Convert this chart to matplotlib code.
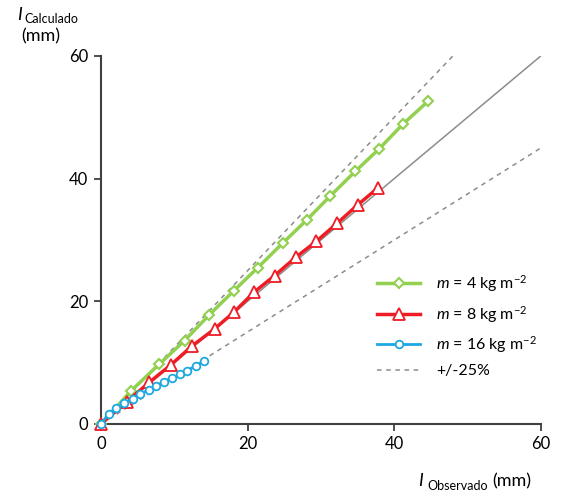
# Calculated vs observed values, three loads plus 1:1 and +/-25% lines
import numpy as np
import matplotlib
matplotlib.use('Agg')
import matplotlib.pyplot as plt

plt.rcParams['font.family'] = ['Lato', 'DejaVu Sans']
plt.rcParams['mathtext.fontset'] = 'custom'
plt.rcParams['mathtext.rm'] = 'Lato'
plt.rcParams['mathtext.it'] = 'Lato:italic'

# data
obs_4 = [0, 4.1, 7.9, 11.4, 14.7, 18.1, 21.4, 24.8, 28.1, 31.3, 34.7, 37.9, 41.2, 44.6]
calc_4 = [0, 5.4, 9.7, 13.6, 17.7, 21.7, 25.5, 29.5, 33.3, 37.2, 41.2, 44.8, 48.9, 52.6]
obs_8 = [0, 3.5, 6.6, 9.5, 12.4, 15.5, 18.2, 20.9, 23.7, 26.6, 29.4, 32.2, 35.0, 37.8]
calc_8 = [0, 3.6, 6.8, 9.6, 12.7, 15.5, 18.3, 21.5, 24.2, 27.2, 29.8, 32.7, 35.7, 38.5]
obs_16 = [0, 1.1, 2.1, 3.2, 4.3, 5.3, 6.5, 7.5, 8.6, 9.7, 10.8, 11.8, 12.9, 14.0]
calc_16 = [0, 1.7, 2.6, 3.4, 4.1, 4.9, 5.5, 6.2, 6.9, 7.5, 8.1, 8.7, 9.5, 10.2]
labels = [r'$\it{m}$ = 4 kg m$^{-2}$', r'$\it{m}$ = 8 kg m$^{-2}$', r'$\it{m}$ = 16 kg m$^{-2}$']
ticks = [0, 20, 40, 60]

fig = plt.figure(figsize=(5.61, 4.91), dpi=100)
ax = fig.add_axes([0.180, 0.1365, 0.784, 0.7495])

# reference lines
ref = np.array([0, 60])
ax.plot(ref, ref, color='#8c8c8c', lw=1.1, zorder=1)
ax.plot([0, 48], [0, 60], color='#8c8c8c', lw=1.1, ls=(0, (3, 3)), zorder=1)
ax.plot(ref, ref * 0.75, color='#8c8c8c', lw=1.1, ls=(0, (3, 3)), zorder=1,
        label='+/-25%')

ax.plot(obs_4, calc_4, color='#92d050', lw=2.5, marker='D', ms=5.5, mfc='white',
        mec='#92d050', mew=1.5, label=labels[0], zorder=3, clip_on=False)
ax.plot(obs_8, calc_8, color='#ee1c25', lw=2.5, marker='^', ms=8, mfc='white',
        mec='#ee1c25', mew=1.3, label=labels[1], zorder=3, clip_on=False)
ax.plot(obs_16, calc_16, color='#1ea8e0', lw=2, marker='o', ms=5.5, mfc='white',
        mec='#1ea8e0', mew=1.3, label=labels[2], zorder=4, clip_on=False)

ax.set_xlim(0, 60)
ax.set_ylim(0, 60)
ax.set_xticks(ticks)
ax.set_yticks(ticks)
ax.tick_params(labelsize=12, length=5, width=1.3, color='#404040', pad=4)
for s in ['top', 'right']:
    ax.spines[s].set_visible(False)
for s in ['left', 'bottom']:
    ax.spines[s].set_color('#404040')
    ax.spines[s].set_linewidth(1.5)
ax.patch.set_alpha(0)

h, l = ax.get_legend_handles_labels()
order = [1, 2, 3, 0]
ax.legend([h[i] for i in order], [l[i] for i in order], loc='upper left',
          bbox_to_anchor=(0.595, 0.448), frameon=False, fontsize=11.5,
          handlelength=2.7, handletextpad=1.0, labelspacing=0.58)

# axis titles
fig.text(0.030, 0.960, 'I', fontsize=13, style='italic', va='baseline')
fig.text(0.043, 0.953, 'Calculado', fontsize=9, va='baseline')
fig.text(0.038, 0.915, '(mm)', fontsize=13, va='baseline')
fig.text(0.745, 0.010, 'I', fontsize=13, style='italic', va='baseline')
fig.text(0.762, 0.003, 'Observado', fontsize=9, va='baseline')
fig.text(0.877, 0.010, '(mm)', fontsize=13, va='baseline')

fig.savefig('out.png', dpi=100)
